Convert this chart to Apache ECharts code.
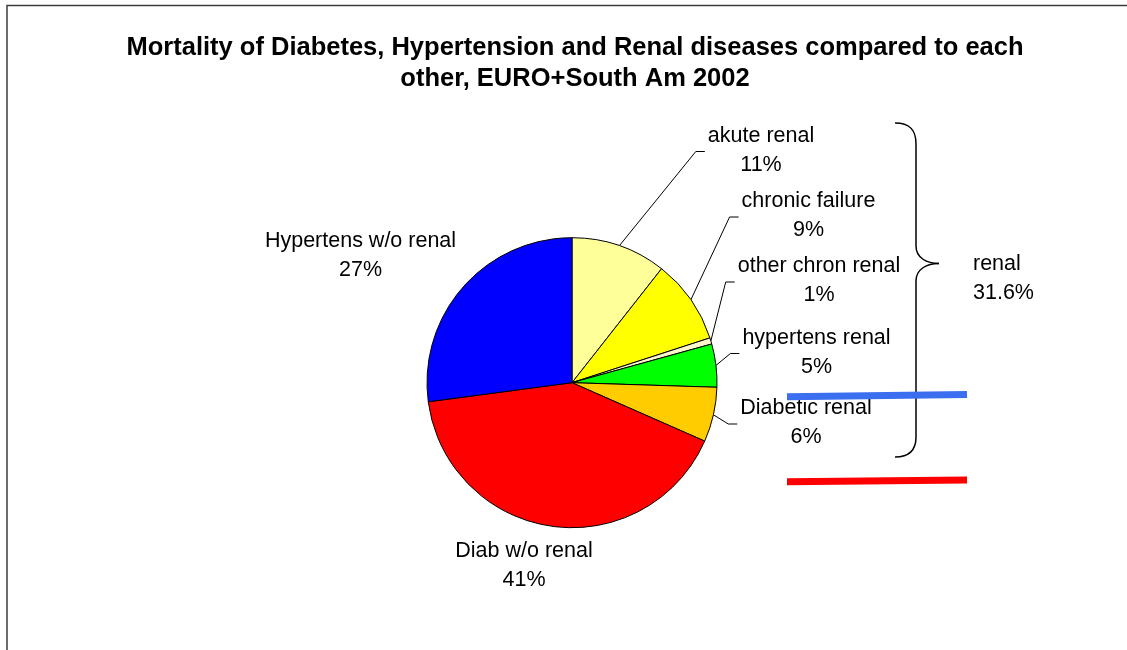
<!DOCTYPE html>
<html>
<head>
<meta charset="utf-8">
<script src="https://cdn.jsdelivr.net/npm/echarts@6/dist/echarts.min.js"></script>
<style>
  html, body { margin: 0; padding: 0; background: #fff; }
  #chart { width: 1127px; height: 650px; }
</style>
</head>
<body>
<div id="chart"></div>
<script>
// ---- data ----
const categories = ['akute renal', 'chronic failure', 'other chron renal', 'hypertens renal', 'Diabetic renal', 'Diab w/o renal', 'Hypertens w/o renal'];
const values = [10.6, 9.4, 0.7, 4.8, 6.1, 41.3, 27.1];
const renalCategories = ['akute renal', 'chronic failure', 'other chron renal', 'hypertens renal', 'Diabetic renal'];
const groupLabel = 'renal';
const titleLines = ['Mortality of Diabetes, Hypertension and Renal diseases compared to each', 'other, EURO+South Am 2002'];

// ---- styles / layout ----
const colors = ['#FFFF99', '#FFFF00', '#FFF6CC', '#00FF00', '#FFCC00', '#FF0000', '#0000FF'];
const CX = 572, CY = 382.7, R = 145;
const LABEL_POS = [[761, 150.5], [808.5, 216], [819, 281], [816.5, 352.5], [806, 423], [524, 566], [360.5, 255.5]];
const FONT = 'Liberation Sans, Arial, sans-serif';

const total = values.reduce((a, b) => a + b, 0);
const cum = [];
values.reduce((acc, v, i) => { cum[i] = acc; return acc + v; }, 0);
function edgePoint(i) {
  const a = 2 * Math.PI * (cum[i] + values[i] / 2) / total;
  return [CX + R * Math.sin(a), CY - R * Math.cos(a)];
}
const renalSum = values.filter((v, i) => renalCategories.includes(categories[i])).reduce((a, b) => a + b, 0);
const renalPct = (renalSum / total * 100).toFixed(1);

const chart = echarts.init(document.getElementById('chart'), null, { renderer: 'canvas' });

const option = {
  animation: false,
  backgroundColor: '#fff',
  title: {
    text: titleLines.join('\n'),
    left: 570,
    top: 27,
    textAlign: 'center',
    textStyle: { fontFamily: FONT, fontSize: 25.5, fontWeight: 'bold', color: '#000', lineHeight: 31 }
  },
  series: [{
    type: 'pie',
    center: [CX, CY],
    radius: R,
    startAngle: 90,
    clockwise: true,
    avoidLabelOverlap: false,
    percentPrecision: 0,
    emphasis: { disabled: true },
    silent: true,
    itemStyle: { borderColor: '#000', borderWidth: 1 },
    label: {
      show: true,
      position: 'outside',
      formatter: '{b}\n{d}%',
      color: '#000',
      fontFamily: FONT,
      fontSize: 21.5,
      lineHeight: 29,
      align: 'center'
    },
    labelLine: { show: true, lineStyle: { color: '#000', width: 1 } },
    labelLayout: function (params) {
      const i = params.dataIndex;
      const x = LABEL_POS[i][0], y = LABEL_POS[i][1];
      const res = { x: x, y: y, align: 'center', verticalAlign: 'middle' };
      if (i < renalCategories.length) {
        const w = params.labelRect.width;
        const left = x - w / 2;
        res.labelLinePoints = [edgePoint(i), [left - 12, y + 1], [left - 3, y + 1]];
      }
      return res;
    },
    data: categories.map((c, i) => ({
      name: c,
      value: values[i],
      itemStyle: { color: colors[i] },
      labelLine: { show: renalCategories.includes(c) }
    }))
  }],
  graphic: [
    { type: 'rect', z: -10, shape: { x: 7, y: 5.5, width: 1300, height: 800 }, style: { fill: 'none', stroke: '#3c3c3c', lineWidth: 1.5 } },
    // brace
    { type: 'bezierCurve', shape: { x1: 895, y1: 123, cpx1: 910, cpy1: 123, cpx2: 916, cpy2: 130, x2: 916, y2: 144 }, style: { stroke: '#000', lineWidth: 1.5, fill: 'none' } },
    { type: 'line', shape: { x1: 916, y1: 144, x2: 916, y2: 246 }, style: { stroke: '#000', lineWidth: 1.5 } },
    { type: 'bezierCurve', shape: { x1: 916, y1: 246, cpx1: 916, cpy1: 258, cpx2: 927, cpy2: 263.5, x2: 939, y2: 263.5 }, style: { stroke: '#000', lineWidth: 1.5, fill: 'none' } },
    { type: 'bezierCurve', shape: { x1: 939, y1: 263.5, cpx1: 927, cpy1: 263.5, cpx2: 916, cpy2: 269, x2: 916, y2: 281 }, style: { stroke: '#000', lineWidth: 1.5, fill: 'none' } },
    { type: 'line', shape: { x1: 916, y1: 281, x2: 916, y2: 437 }, style: { stroke: '#000', lineWidth: 1.5 } },
    { type: 'bezierCurve', shape: { x1: 916, y1: 437, cpx1: 916, cpy1: 450, cpx2: 910, cpy2: 457, x2: 895, y2: 457 }, style: { stroke: '#000', lineWidth: 1.5, fill: 'none' } },
    // group label
    { type: 'text', x: 973, y: 279, style: { text: groupLabel + '\n' + renalPct + '%', fontFamily: FONT, fontSize: 21.5, lineHeight: 29, fill: '#000', textAlign: 'left', textVerticalAlign: 'middle' } },
    // annotation strokes
    { type: 'line', z: 20, shape: { x1: 787, y1: 396.7, x2: 967, y2: 394.5 }, style: { stroke: '#3b6ff0', lineWidth: 7 } },
    { type: 'line', z: 20, shape: { x1: 787, y1: 481.7, x2: 967, y2: 480 }, style: { stroke: '#ff0000', lineWidth: 7 } }
  ]
};
chart.setOption(option);
</script>
</body>
</html>
